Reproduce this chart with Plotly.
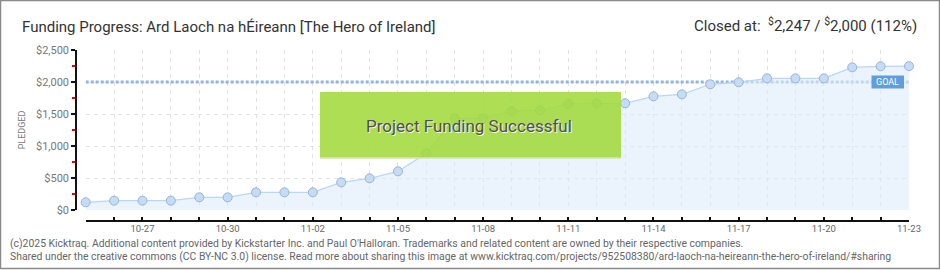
import plotly.graph_objects as go

# ---- data ----
dates = [
    "2024-10-25", "2024-10-26", "2024-10-27", "2024-10-28", "2024-10-29", "2024-10-30",
    "2024-10-31", "2024-11-01", "2024-11-02", "2024-11-03", "2024-11-04", "2024-11-05",
    "2024-11-06", "2024-11-07", "2024-11-08", "2024-11-09", "2024-11-10", "2024-11-11",
    "2024-11-12", "2024-11-13", "2024-11-14", "2024-11-15", "2024-11-16", "2024-11-17",
    "2024-11-18", "2024-11-19", "2024-11-20", "2024-11-21", "2024-11-22", "2024-11-23",
]
pledged = [
    120, 146, 146, 146, 198, 198, 276, 276, 276, 432,
    495, 604, 885, 1432, 1432, 1547, 1557, 1656, 1667, 1667,
    1776, 1807, 1964, 1995, 2057, 2057, 2057, 2229, 2245, 2247,
]
goal = 2000
tick_dates = ["2024-10-27", "2024-10-30", "2024-11-02", "2024-11-05", "2024-11-08",
              "2024-11-11", "2024-11-14", "2024-11-17", "2024-11-20", "2024-11-23"]
tick_labels = ["10-27", "10-30", "11-02", "11-05", "11-08",
               "11-11", "11-14", "11-17", "11-20", "11-23"]
y_ticks = [0, 500, 1000, 1500, 2000, 2500]
y_tick_labels = ["$0", "$500", "$1,000", "$1,500", "$2,000", "$2,500"]

title_text = "Funding Progress: Ard Laoch na hÉireann [The Hero of Ireland]"
closed_text = "Closed at:  <sup>$</sup>2,247 / <sup>$</sup>2,000 (112%)"
footer1 = ("(c)2025 Kicktraq. Additional content provided by Kickstarter Inc. and Paul O'Halloran. "
           "Trademarks and related content are owned by their respective companies.")
footer2 = ("Shared under the creative commons (CC BY-NC 3.0) license. Read more about sharing this image at "
           "www.kicktraq.com/projects/952508380/ard-laoch-na-heireann-the-hero-of-ireland/#sharing")

# ---- geometry (pixels) ----
W, H = 940, 270
L, R, T, B = 76, 31, 50, 49
PW, PH = W - L - R, H - T - B


def px(x):
    return (x - L) / PW


def py(y):
    return (H - B - y) / PH


FONT = "Roboto"

fig = go.Figure()

# goal line
fig.add_trace(go.Scatter(
    x=[dates[0], dates[-1]], y=[goal, goal], mode="lines",
    line=dict(color="#8fb4e0", width=3, dash="3px,2px"),
    hoverinfo="skip", showlegend=False, cliponaxis=False,
))

# pledged area
fig.add_trace(go.Scatter(
    x=dates, y=pledged, mode="lines+markers", fill="tozeroy",
    fillcolor="rgba(222,236,252,0.6)",
    line=dict(color="#b9d6f4", width=1.2),
    marker=dict(size=9, color="#c4dcf6", line=dict(color="#97b3d6", width=1)),
    showlegend=False, cliponaxis=False,
))

fig.update_layout(
    width=W, height=H,
    margin=dict(l=L, r=R, t=T, b=B),
    paper_bgcolor="white", plot_bgcolor="white",
    font=dict(family=FONT, color="#555"),
    xaxis=dict(
        domain=[px(85.7), 1],
        anchor="free", position=0,
        type="date",
        range=[dates[0], dates[-1]],
        tickvals=tick_dates, ticktext=tick_labels,
        ticks="inside", ticklen=3, tickcolor="#111", tickwidth=1.5,
        showline=True, linecolor="#111", linewidth=1.5,
        showgrid=True, gridcolor="#e2e2e2", griddash="4px,4px", gridwidth=1,
        tickfont=dict(size=9.5, color="#666"),
        ticklabelstandoff=-1,
        minor=dict(dtick=86400000, tick0=dates[0], ticks="inside", ticklen=3,
                   tickcolor="#111", tickwidth=1.5,
                   showgrid=True, gridcolor="#e2e2e2", griddash="4px,4px", gridwidth=1),
        zeroline=False,
    ),
    yaxis=dict(
        domain=[py(210), 1],
        anchor="free", position=0,
        range=[0, 2500],
        tickvals=y_ticks, ticktext=y_tick_labels,
        ticks="outside", ticklen=4, tickcolor="#111", tickwidth=1.5,
        showline=True, linecolor="#111", linewidth=1.5,
        showgrid=True, gridcolor="#e2e2e2", griddash="4px,4px", gridwidth=1,
        tickfont=dict(size=11, color="#777"),
        minor=dict(dtick=250, ticks="outside", ticklen=3, tickcolor="#e00000", tickwidth=1.5),
        zeroline=False,
        title=dict(text="PLEDGED", font=dict(size=9, color="#777"), standoff=8),
    ),
)

shapes = []
annotations = []

# outer border
shapes.append(dict(type="rect", xref="paper", yref="paper",
                   x0=px(0.5), x1=px(939.5), y0=py(0.5), y1=py(268.5),
                   line=dict(color="#8a8a8a", width=1.5), fillcolor="rgba(0,0,0,0)", layer="above"))

# success box
shapes.append(dict(type="rect", xref="paper", yref="paper",
                   x0=px(320), x1=px(621), y0=py(158), y1=py(92),
                   line=dict(width=0), fillcolor="rgba(162,218,60,0.88)", layer="above"))
shapes.append(dict(type="line", xref="paper", yref="paper",
                   x0=px(320), x1=px(621), y0=py(158), y1=py(158),
                   line=dict(color="#d7e6a8", width=1.5), layer="above"))

# GOAL tag
shapes.append(dict(type="rect", xref="paper", yref="paper",
                   x0=px(871.5), x1=px(904), y0=py(88.5), y1=py(75.5),
                   line=dict(width=0), fillcolor="#5f9ddf", layer="above"))

annotations.append(dict(text="GOAL", xref="paper", yref="paper", x=px(887.7), y=py(82),
                        showarrow=False, xanchor="center", yanchor="middle",
                        font=dict(family=FONT, size=9, color="white")))

annotations.append(dict(text="Project Funding Successful", xref="paper", yref="paper",
                        x=px(469), y=py(126.5), showarrow=False,
                        xanchor="center", yanchor="middle",
                        font=dict(family=FONT, size=17, color="#505050",
                                  shadow="1px 1px 0px #f4f4f4")))

annotations.append(dict(text=title_text, xref="paper", yref="paper",
                        x=px(20), y=py(27), showarrow=False, xanchor="left", yanchor="middle",
                        font=dict(family=FONT, size=15, color="#333")))
annotations.append(dict(text=closed_text, xref="paper", yref="paper",
                        x=px(919), y=py(25), showarrow=False, xanchor="right", yanchor="middle",
                        font=dict(family=FONT, size=15, color="#333")))

annotations.append(dict(text=footer1, xref="paper", yref="paper",
                        x=px(8), y=py(243), showarrow=False, xanchor="left", yanchor="middle",
                        font=dict(family=FONT, size=10.4, color="#666")))
annotations.append(dict(text=footer2, xref="paper", yref="paper",
                        x=px(8), y=py(256), showarrow=False, xanchor="left", yanchor="middle",
                        font=dict(family=FONT, size=10.4, color="#666")))

fig.update_layout(shapes=shapes, annotations=annotations)

fig.write_html("out.html")
